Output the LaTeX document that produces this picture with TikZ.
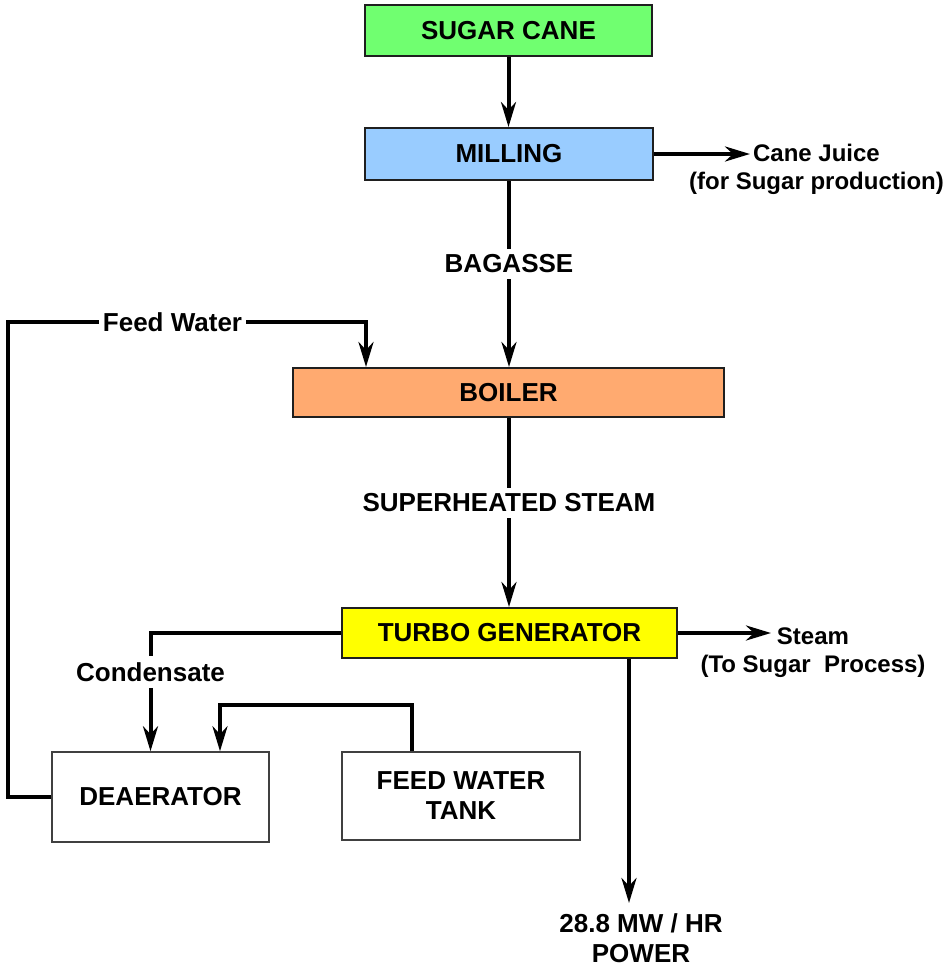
\documentclass[tikz,border=0pt]{standalone}
\usepackage{fontspec}
\setmainfont{Liberation Sans}
\usetikzlibrary{arrows.meta}
\definecolor{cgreen}{RGB}{112,255,112}
\definecolor{cblue}{RGB}{153,204,255}
\definecolor{corange}{RGB}{255,170,112}
\definecolor{cyellow}{RGB}{255,255,0}
\begin{document}
\begin{tikzpicture}[x=1pt,y=-1pt,
  box/.style={draw=black!88, line width=2pt, inner sep=0pt, align=center,
    font=\fontsize{26}{30}\selectfont\bfseries},
  wbox/.style={box, draw=black!75, line width=1.5pt, fill=white},
  lbl/.style={fill=white, inner ysep=6pt, inner xsep=4pt,
    font=\fontsize{26}{30}\selectfont\bfseries},
  side/.style={inner sep=0pt, align=center,
    font=\fontsize{24}{28}\selectfont\bfseries},
  conn/.style={line width=4pt, -{Stealth[length=25pt,width=15pt,inset=8pt]}},
  pipe/.style={line width=4pt}]
\useasboundingbox (0,0) rectangle (946,967);

% boxes
\node[box, fill=cgreen, minimum width=287pt, minimum height=51pt] (sc) at (508.5,30.5) {SUGAR CANE};
\node[box, fill=cblue, minimum width=288pt, minimum height=52pt] (mil) at (509,154) {MILLING};
\node[box, fill=corange, minimum width=431pt, minimum height=49pt] (boi) at (508.5,392.5) {BOILER};
\node[box, fill=cyellow, minimum width=335pt, minimum height=50pt] (tg) at (509.5,633) {TURBO GENERATOR};
\node[wbox, minimum width=217pt, minimum height=90pt] (dea) at (160.5,797) {DEAERATOR};
\node[wbox, minimum width=238pt, minimum height=88pt] (fwt) at (461,796) {FEED WATER\\TANK};

% labels on lines
\node[lbl] (bag) at (509,264) {BAGASSE};
\node[lbl] (sup) at (509,503) {SUPERHEATED STEAM};
\node[lbl] (fw) at (172.5,322) {Feed Water};
\node[lbl] (cond) at (150.5,672) {Condensate};

% side texts
\node[side, anchor=north] (juice) at (816.5,144) {Cane Juice\\(for Sugar production)};
\node[side, anchor=north] (steam) at (813,628) {Steam\\(To Sugar~~Process)};
\node[side, font=\fontsize{26}{30}\selectfont\bfseries, anchor=north] (pow) at (641,913) {28.8 MW / HR\\POWER};

% helper coordinates
\coordinate (jt) at (750,154);
\coordinate (st) at (771,633);
\coordinate (pend) at (629,903);
\coordinate (tkx) at (412,705);
\coordinate (dkx) at (220,705);
\coordinate (fwx) at (366,0);
\coordinate (lft) at (8,0);

% connectors
\draw[conn] (sc.south) -- (sc.south |- mil.north);
\draw[pipe] (mil.south) -- (mil.south |- bag.north);
\draw[conn] (bag.south) -- (bag.south |- boi.north);
\draw[pipe] (boi.south) -- (boi.south |- sup.north);
\draw[conn] (sup.south) -- (sup.south |- tg.north);
\draw[conn] (mil.east) -- (jt);
\draw[conn] (tg.east) -- (st);
\draw[conn] (tg.south -| pend) -- (pend);
\draw[pipe] (tg.west) -| (cond.north);
\draw[conn] (cond.south) -- (cond.south |- dea.north);
\draw[conn] (fwt.north -| tkx) -- (tkx) -- (dkx) -- (dea.north -| dkx);
\draw[pipe] (dea.west) -- (dea.west -| lft) -- (lft |- fw.west) -- (fw.west);
\draw[conn] (fw.east) -| (fwx |- boi.north);
\end{tikzpicture}
\end{document}
